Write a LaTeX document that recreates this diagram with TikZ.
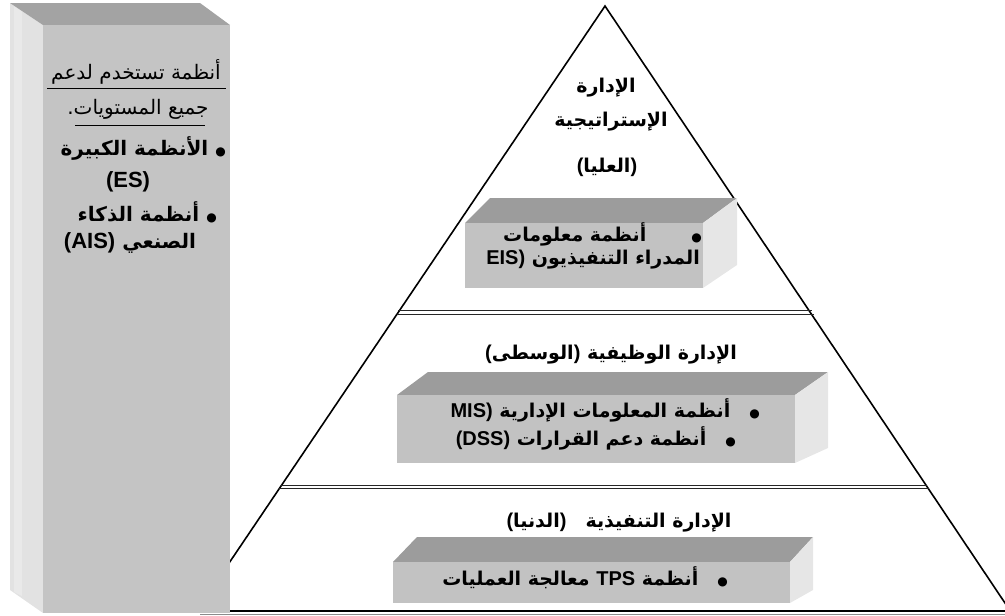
\documentclass[tikz,border=0pt]{standalone}
\usepackage{fontspec}
\setmainfont{Liberation Sans}
\newfontfamily\arabicfont[Script=Arabic]{DejaVu Sans}
\newfontfamily\latinfont{Liberation Sans}
\TeXXeTstate=1

\definecolor{colfront}{HTML}{C4C4C4}
\definecolor{colside}{HTML}{E2E2E2}
\definecolor{coltop}{HTML}{A3A3A3}
\definecolor{boxfront}{HTML}{C2C2C2}
\definecolor{boxtop}{HTML}{9C9C9C}
\definecolor{boxside}{HTML}{E6E6E6}

% bullet and Latin-run helpers
\newcommand{\bul}{{\fontsize{12}{12}\selectfont ●}}
\newcommand{\lt}[1]{{\latinfont\bfseries\fontsize{20}{23}\selectfont #1}}
\newcommand{\lat}[1]{\beginL\lt{#1}\endL}
\newcommand{\ltbig}[1]{{\latinfont\bfseries\fontsize{22}{25}\selectfont #1}}

\tikzset{
  ar/.style={font=\arabicfont\bfseries\fontsize{19}{22}\selectfont, inner sep=0pt},
  arcol/.style={font=\arabicfont\bfseries\fontsize{20}{23}\selectfont, inner sep=0pt},
  arthin/.style={font=\arabicfont\fontsize{20}{23}\selectfont, inner sep=0pt},
  edge/.style={line width=1.6pt, black},
  divider/.style={line width=0.9pt, black!85},
  uline/.style={line width=0.8pt, black},
}

\begin{document}
\begin{tikzpicture}[x=1pt, y=-1pt]
\useasboundingbox (0,0) rectangle (1005,616);
\clip (0,0) rectangle (1005,616);

% pyramid outline
\coordinate (apex) at (605,6);
\coordinate (baseL) at (196,612);
\coordinate (baseR) at (1011,612);
\draw[edge, line join=miter] (baseL) -- (apex) -- (baseR);

% double divider lines between levels
\draw[divider] (398,310.5) -- (812,310.5);
\draw[divider] (397,314) -- (814,314);
\draw[divider] (281,485) -- (927,485);
\draw[divider] (279,488.5) -- (929,488.5);

% base line
\draw[line width=1.8pt, black] (200,611) -- (1005,611);
\draw[line width=1pt, black!45] (200,614) -- (1005,614);

% left column (3D block)
\fill[colside] (10,3) -- (43,25) -- (43,613) -- (10,590) -- cycle;
\fill[white, opacity=0.25] (14,6) -- (22,11) -- (22,596) -- (14,592) -- cycle;
\fill[coltop] (10,3) -- (200,3) -- (230,25) -- (43,25) -- cycle;
\fill[colfront] (43,25) rectangle (230,613);

% level boxes
\fill[boxtop] (465,223) -- (490,198) -- (737,198) -- (703,223) -- cycle;
\fill[boxside] (703,223) -- (737,198) -- (737,265) -- (703,288) -- cycle;
\fill[boxfront] (465,223) rectangle (703,288);

\fill[boxtop] (397,395) -- (428,372) -- (828,372) -- (795,395) -- cycle;
\fill[boxside] (795,395) -- (828,372) -- (828,448) -- (795,463) -- cycle;
\fill[boxfront] (397,395) rectangle (795,463);

\fill[boxtop] (393,562) -- (417,537) -- (813,537) -- (790,562) -- cycle;
\fill[boxside] (790,562) -- (813,537) -- (813,590) -- (790,603) -- cycle;
\fill[boxfront] (393,562) rectangle (790,603);

% column texts
\node[arthin] (c1) at (136,72) {\beginR أنظمة تستخدم لدعم\endR};
\draw[uline] (47,88) -- (226,88);
\node[arthin] (c2) at (138,109) {\beginR جميع المستويات.\endR};
\draw[uline] (75,125) -- (205,125);
\node[arcol, anchor=east] (c3) at (226,148) {\beginR\bul\ الأنظمة الكبيرة\endR};
\node[arcol] (c4) at (128,182) {\ltbig{(ES)}};
\node[arcol, anchor=east] (c5) at (217,212) {\beginR\bul\ أنظمة الذكاء\endR};
\node[arcol] (c6) at (130,243) {\ltbig{(AIS)}\ \beginR الصنعي\endR};

% top level
\node[ar] (t1) at (606,88) {\beginR الإدارة\endR};
\node[ar] (t2) at (611,122) {\beginR الإستراتيجية\endR};
\node[ar] (t3) at (607,167) {\lt{(}\beginR العليا\endR\lt{)}};
\node[ar, anchor=east] (eis1) at (702,234) {\beginR\bul\hspace{45pt}أنظمة معلومات\endR};
\node[ar, anchor=east] (eis2) at (700,260) {\lt{EIS)}\ \beginR المدراء التنفيذيون\endR};

% middle level
\node[ar] (m0) at (611,355) {\lt{(}\beginR الوسطى\endR\lt{)}\ \beginR الإدارة الوظيفية\endR};
\node[ar, anchor=east] (mis) at (760,410) {\lt{MIS)}\ \beginR\bul\quad أنظمة المعلومات الإدارية\endR};
\node[ar, anchor=east] (dss) at (736,438) {\lt{(DSS)}\ \beginR\bul\quad أنظمة دعم القرارات\endR};

% operational level
\node[ar] (b0) at (619,523) {\lt{(}\beginR الدنيا\endR\lt{)}\quad\beginR الإدارة التنفيذية\endR};
\node[ar, anchor=east] (tps) at (728,578) {\beginR\bul\quad أنظمة \lat{TPS} معالجة العمليات\endR};
\end{tikzpicture}
\end{document}
